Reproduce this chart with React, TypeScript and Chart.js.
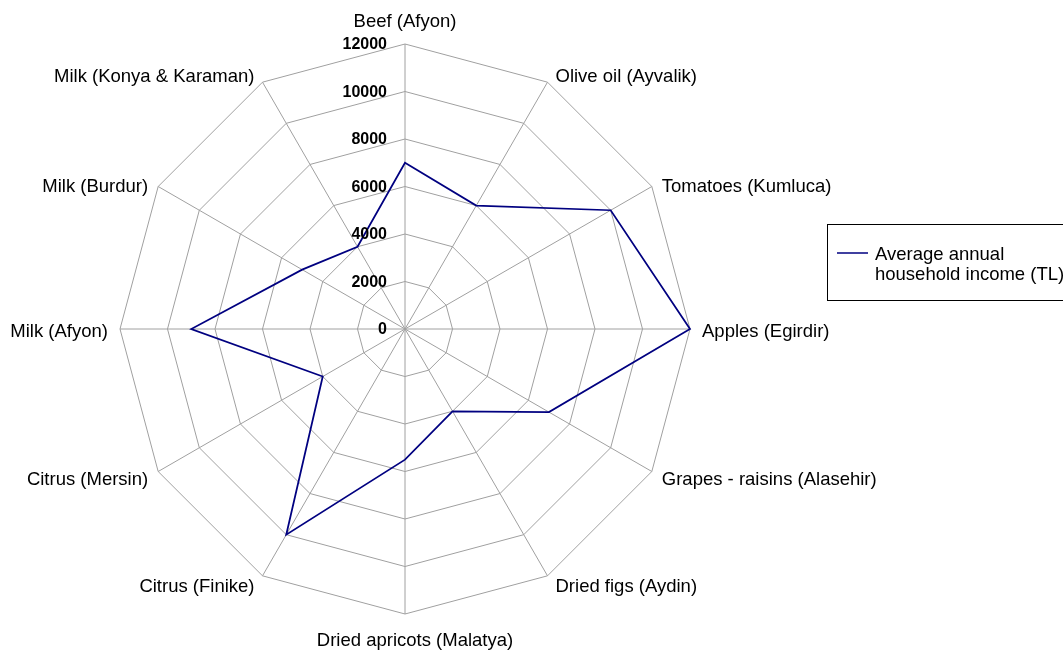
import React, { useEffect, useRef } from "react";
import { Chart, registerables } from "chart.js";

Chart.register(...registerables);

const categories: string[] = [
  "Beef (Afyon)",
  "Olive oil (Ayvalik)",
  "Tomatoes (Kumluca)",
  "Apples (Egirdir)",
  "Grapes - raisins (Alasehir)",
  "Dried figs (Aydin)",
  "Dried apricots (Malatya)",
  "Citrus (Finike)",
  "Citrus (Mersin)",
  "Milk (Afyon)",
  "Milk (Burdur)",
  "Milk (Konya & Karaman)",
];

const incomeValues: number[] = [7000, 6000, 10000, 12000, 7000, 4000, 5500, 10000, 4000, 9000, 5000, 4000];

const tickValues: number[] = [0, 2000, 4000, 6000, 8000, 10000, 12000];

const seriesName = "Average annual household income (TL)";
const legendLines: string[] = ["Average annual", "household income (TL)"];

const FONT = "Liberation Sans, Arial, Helvetica, sans-serif";

// per-label placement: [dx, dyBaseline, align]
const labelPlacement: Array<[number, number, CanvasTextAlign]> = [
  [0, -17, "center"],
  [8, 0, "left"],
  [10, 5, "left"],
  [12, 7.5, "left"],
  [10, 13, "left"],
  [8, 16, "left"],
  [10, 32, "center"],
  [-8, 16, "right"],
  [-10, 13, "right"],
  [-12, 7.5, "right"],
  [-10, 5, "right"],
  [-8, 0, "right"],
];

const overlayPlugin = {
  id: "overlayLabels",
  afterDraw(chart: any) {
    const ctx: CanvasRenderingContext2D = chart.ctx;
    const scale = chart.scales.r;
    ctx.save();
    // point labels
    ctx.fillStyle = "#000000";
    ctx.font = `18.5px ${FONT}`;
    ctx.textBaseline = "alphabetic";
    categories.forEach((label, i) => {
      const p = scale.getPointPosition(i, scale.drawingArea);
      const [dx, dy, align] = labelPlacement[i];
      ctx.textAlign = align;
      ctx.fillText(label, p.x + dx, p.y + dy);
    });
    // tick labels
    ctx.font = `bold 16px ${FONT}`;
    ctx.textAlign = "right";
    ctx.textBaseline = "middle";
    tickValues.forEach((v) => {
      const d = scale.getDistanceFromCenterForValue(v);
      ctx.fillText(String(v), scale.xCenter - 18, scale.yCenter - d + 1);
    });
    // legend
    ctx.strokeStyle = "#000000";
    ctx.lineWidth = 1;
    ctx.strokeRect(827.5, 224.5, 260, 76);
    ctx.strokeStyle = "#000080";
    ctx.lineWidth = 1.5;
    ctx.beginPath();
    ctx.moveTo(837, 253);
    ctx.lineTo(868, 253);
    ctx.stroke();
    ctx.fillStyle = "#000000";
    ctx.font = `18.5px ${FONT}`;
    ctx.textAlign = "left";
    ctx.textBaseline = "alphabetic";
    ctx.fillText(legendLines[0], 875, 259.5);
    ctx.fillText(legendLines[1], 875, 280);
    ctx.restore();
  },
};

export default function App() {
  const ref = useRef<HTMLCanvasElement | null>(null);
  useEffect(() => {
    if (!ref.current) return;
    const chart = new Chart(ref.current, {
      type: "radar",
      data: {
        labels: categories,
        datasets: [
          {
            label: seriesName,
            data: incomeValues,
            borderColor: "#000080",
            backgroundColor: "rgba(0,0,0,0)",
            borderWidth: 1.75,
            fill: false,
            pointRadius: 0,
            pointHoverRadius: 0,
            tension: 0,
          },
        ],
      },
      options: {
        responsive: false,
        animation: false,
        devicePixelRatio: 1,
        layout: { padding: { left: 120, right: 373, top: 44, bottom: 38 } },
        plugins: {
          legend: { display: false },
          tooltip: { enabled: false },
        },
        scales: {
          r: {
            min: 0,
            max: 12000,
            beginAtZero: true,
            ticks: { stepSize: 2000, display: false },
            pointLabels: { display: false },
            grid: { color: "#a0a0a0", lineWidth: 1 },
            angleLines: { color: "#a0a0a0", lineWidth: 1 },
          },
        },
      },
      plugins: [overlayPlugin],
    });
    return () => chart.destroy();
  }, []);
  return (
    <div style={{ position: "fixed", left: 0, top: 0, width: 1063, height: 652, background: "#ffffff" }}>
      <canvas ref={ref} width={1063} height={652} style={{ width: 1063, height: 652, display: "block" }} />
    </div>
  );
}
